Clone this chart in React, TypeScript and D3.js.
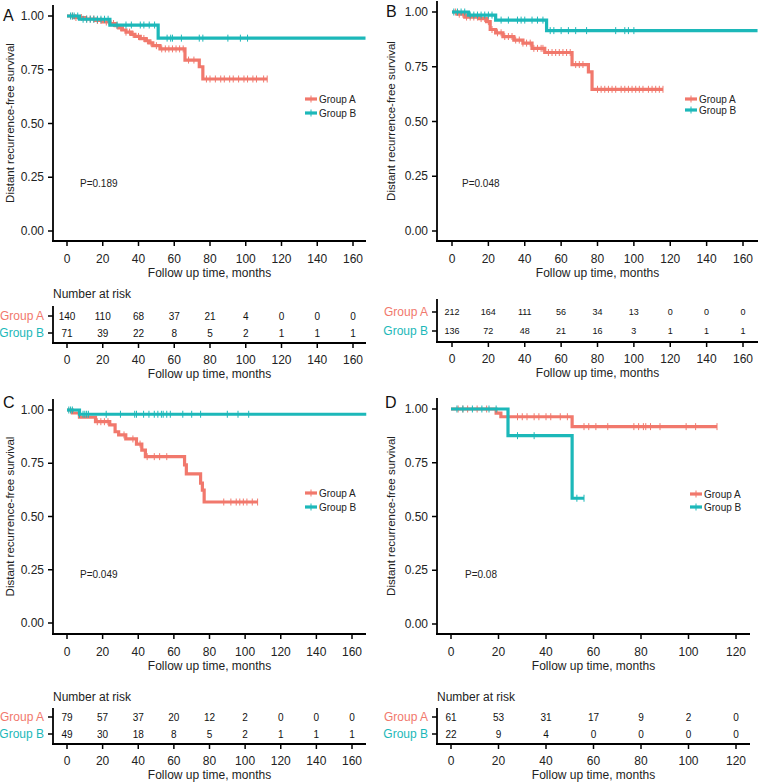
import React from "react";
import * as d3 from "d3";

const RED = "#F1786C";
const TEAL = "#1CB8B9";
const groupNames = ["Group A", "Group B"];
const yTicks = [0, 0.25, 0.5, 0.75, 1];
const xTicks160 = [0, 20, 40, 60, 80, 100, 120, 140, 160];
const xTicks120 = [0, 20, 40, 60, 80, 100, 120];

// ---- panel A ----
const aStepsA = [[0, 1], [4, 0.993], [10, 0.986], [16, 0.979], [20, 0.972], [24, 0.965], [27, 0.955], [29, 0.945], [31, 0.935], [33, 0.925], [36, 0.915], [38, 0.905], [41, 0.895], [44, 0.885], [46, 0.875], [48, 0.862], [52, 0.847], [66, 0.795], [74, 0.764], [76, 0.707]];
const aEndA = 112;
const aCensA = [3, 5, 8, 11, 13, 15, 17, 19, 22, 26, 28, 30, 33, 35, 37, 40, 43, 45, 47, 50, 53, 55, 57, 59, 61, 63, 65, 68, 71, 78, 80, 83, 86, 88, 91, 93, 96, 99, 101, 104, 106, 110, 112];
const aStepsB = [[0, 1], [7, 0.985], [24, 0.958], [51, 0.897]];
const aEndB = 167;
const aCensB = [2, 3, 4, 6, 9, 11, 13, 15, 17, 19, 21, 23, 28, 33, 36, 41, 43, 46, 49, 56, 58, 59, 64, 74, 76, 90, 97, 101];
const aRiskA = [140, 110, 68, 37, 21, 4, 0, 0, 0];
const aRiskB = [71, 39, 22, 8, 5, 2, 1, 1, 1];

// ---- panel B ----
const bStepsA = [[0, 1], [3, 0.99], [7, 0.977], [15, 0.97], [19, 0.956], [21, 0.92], [24, 0.905], [28, 0.888], [34, 0.872], [39, 0.858], [44, 0.834], [51, 0.815], [66, 0.76], [75, 0.727], [77, 0.647]];
const bEndA = 116;
const bCensA = [2, 4, 6, 8, 10, 12, 14, 16, 18, 20, 22, 25, 27, 29, 31, 33, 35, 37, 39, 41, 43, 45, 47, 49, 50, 53, 55, 57, 59, 61, 63, 65, 68, 70, 72, 80, 82, 84, 86, 88, 90, 93, 95, 97, 99, 101, 103, 105, 108, 110, 112, 114, 116];
const bStepsB = [[0, 1], [9, 0.986], [24, 0.963], [52, 0.915]];
const bEndB = 168;
const bCensB = [1, 3, 5, 7, 10, 12, 14, 16, 18, 20, 22, 27, 31, 36, 38, 40, 44, 47, 50, 54, 56, 60, 64, 68, 74, 90, 95, 97, 100];
const bRiskA = [212, 164, 111, 56, 34, 13, 0, 0, 0];
const bRiskB = [136, 72, 48, 21, 16, 3, 1, 1, 1];

// ---- panel C ----
const cStepsA = [[0, 1], [3, 0.986], [7, 0.966], [16, 0.945], [24, 0.93], [27, 0.898], [29, 0.883], [33, 0.864], [39, 0.84], [42, 0.812], [44, 0.781], [66, 0.742], [67, 0.7], [75, 0.657], [76, 0.624], [77, 0.568]];
const cEndA = 107;
const cCensA = [17, 19, 21, 23, 32, 37, 41, 45, 49, 52, 56, 88, 92, 95, 97, 99, 101, 104, 107];
const cStepsB = [[0, 1], [7, 0.98]];
const cEndB = 168;
const cCensB = [1, 2, 3, 7, 9, 10, 11, 12, 22, 30, 38, 39, 43, 46, 49, 51, 53, 54, 56, 58, 65, 70, 75, 90, 96, 102];
const cRiskA = [79, 57, 37, 20, 12, 2, 0, 0, 0];
const cRiskB = [49, 30, 18, 8, 5, 2, 1, 1, 1];

// ---- panel D ----
const dStepsA = [[0, 1], [19, 0.981], [21, 0.964], [51, 0.918]];
const dEndA = 112;
const dCensA = [3, 5, 7, 11, 15, 28, 30, 32, 35, 37, 40, 42, 46, 49, 56, 58, 61, 66, 77, 79, 81, 82, 84, 88, 99, 103, 112];
const dStepsB = [[0, 1], [24, 0.876], [51, 0.585]];
const dEndB = 56;
const dCensB = [2.5, 5, 9, 13, 16, 19, 28, 35, 53, 56];
const dRiskA = [61, 53, 31, 17, 9, 2, 0];
const dRiskB = [22, 9, 4, 0, 0, 0, 0];

const FONT = "'Liberation Sans', Arial, Helvetica, sans-serif";
const fmt = d3.format(".2f");

function survAt(steps: number[][], t: number) {
  let s = steps[0][1];
  for (const st of steps) if (st[0] <= t) s = st[1];
  return s;
}

function Panel(p: any) {
  const x = d3.scaleLinear().domain([0, p.xTicks[p.xTicks.length - 1]]).range([p.x0, p.x1]);
  const y = d3.scaleLinear().domain([0, 1]).range([p.yZero, p.yOne]);
  const line = d3.line<number[]>().x(d => x(d[0])).y(d => y(d[1])).curve(d3.curveStepAfter);
  const series = [
    { steps: p.stepsA, end: p.endA, cens: p.censA, color: RED },
    { steps: p.stepsB, end: p.endB, cens: p.censB, color: TEAL },
  ];
  const mid = (p.axisL + p.axisR) / 2;
  const riskRows = [p.riskA, p.riskB];
  const rowY = [p.rowA, p.rowB];
  return (
    <g fontFamily={FONT}>
      <text x={p.labelX} y={p.labelY} fontSize={16} dominantBaseline="central" fill="#111">{p.label}</text>
      <text transform={`translate(${p.yTitleX},${(p.axisTop + p.axisBottom) / 2}) rotate(-90)`} textAnchor="middle" dominantBaseline="central" fontSize={11.5} fill="#222">Distant recurrence-free survival</text>
      {/* curves */}
      {series.map((s, i) => {
        const pts = [...s.steps, [s.end, s.steps[s.steps.length - 1][1]]];
        return (
          <g key={i}>
            <path d={line(pts) || ""} fill="none" stroke={s.color} strokeWidth={3.2} />
            {s.cens.map((c: number, j: number) => (
              <line key={j} x1={x(c)} x2={x(c)} y1={y(survAt(s.steps, c)) - 3.5} y2={y(survAt(s.steps, c)) + 3.5} stroke={s.color} strokeWidth={1} />
            ))}
          </g>
        );
      })}
      {/* axes */}
      <line x1={p.axisL} x2={p.axisL} y1={p.axisTop} y2={p.axisBottom + 1} stroke="#000" strokeWidth={1.8} />
      <line x1={p.axisL - 1} x2={p.axisR} y1={p.axisBottom} y2={p.axisBottom} stroke="#000" strokeWidth={1.8} />
      {yTicks.map(t => (
        <g key={t}>
          <line x1={p.axisL - 5} x2={p.axisL} y1={y(t)} y2={y(t)} stroke="#000" strokeWidth={1.5} />
          <text x={p.axisL - 9} y={y(t)} textAnchor="end" dominantBaseline="central" fontSize={12} fill="#222">{fmt(t)}</text>
        </g>
      ))}
      {p.xTicks.map((t: number) => (
        <g key={t}>
          <line x1={x(t)} x2={x(t)} y1={p.axisBottom} y2={p.axisBottom + 5} stroke="#000" strokeWidth={1.5} />
          <text x={x(t)} y={p.axisBottom + 18} textAnchor="middle" dominantBaseline="central" fontSize={12} fill="#222">{t}</text>
        </g>
      ))}
      <text x={mid} y={p.axisBottom + 32} textAnchor="middle" dominantBaseline="central" fontSize={12} fill="#222">Follow up time, months</text>
      {/* p value */}
      <text x={p.pX} y={p.pY} dominantBaseline="central" fontSize={10} fill="#222">{p.pText}</text>
      {/* legend */}
      {series.map((s, i) => {
        const ly = i === 0 ? p.legAY : p.legBY;
        return (
          <g key={i}>
            <line x1={p.legX} x2={p.legX + 12} y1={ly} y2={ly} stroke={s.color} strokeWidth={3.2} />
            <line x1={p.legX + 6} x2={p.legX + 6} y1={ly - 3.5} y2={ly + 3.5} stroke={s.color} strokeWidth={1} />
            <text x={p.legX + 14} y={ly} dominantBaseline="central" fontSize={10} fill="#222">{groupNames[i]}</text>
          </g>
        );
      })}
      {/* risk table */}
      {p.showRiskTitle && (
        <text x={p.axisL} y={p.riskTitleY} dominantBaseline="central" fontSize={12} fill="#222">Number at risk</text>
      )}
      <line x1={p.axisL} x2={p.axisL} y1={p.riskTop} y2={p.riskAxis + 1} stroke="#000" strokeWidth={1.8} />
      <line x1={p.axisL - 1} x2={p.axisR} y1={p.riskAxis} y2={p.riskAxis} stroke="#000" strokeWidth={1.8} />
      {riskRows.map((row: number[], i: number) => (
        <g key={i}>
          <line x1={p.axisL - 5} x2={p.axisL} y1={rowY[i]} y2={rowY[i]} stroke="#000" strokeWidth={1.5} />
          <text x={p.axisL - 9} y={rowY[i]} textAnchor="end" dominantBaseline="central" fontSize={12} fill={i === 0 ? RED : TEAL}>{groupNames[i]}</text>
          {row.map((n, j) => (
            <text key={j} x={x(p.xTicks[j])} y={rowY[i]} textAnchor="middle" dominantBaseline="central" fontSize={p.riskFont} fill="#111">{n}</text>
          ))}
        </g>
      ))}
      {p.xTicks.map((t: number) => (
        <g key={t}>
          <line x1={x(t)} x2={x(t)} y1={p.riskAxis} y2={p.riskAxis + 5} stroke="#000" strokeWidth={1.5} />
          <text x={x(t)} y={p.riskAxis + 17} textAnchor="middle" dominantBaseline="central" fontSize={12} fill="#222">{t}</text>
        </g>
      ))}
      <text x={mid} y={p.riskAxis + 31} textAnchor="middle" dominantBaseline="central" fontSize={12} fill="#222">Follow up time, months</text>
    </g>
  );
}

export default function App() {
  return (
    <svg width={761} height={783} style={{ position: "absolute", left: 0, top: 0, background: "#fff" }}>
      <Panel label="A" labelX={3} labelY={15} yTitleX={10} x0={67} x1={353} axisL={53} axisR={366} yZero={231} yOne={16} axisTop={5} axisBottom={241}
        xTicks={xTicks160} stepsA={aStepsA} endA={aEndA} censA={aCensA} stepsB={aStepsB} endB={aEndB} censB={aCensB}
        pText="P=0.189" pX={80} pY={183} legX={305} legAY={99} legBY={113}
        showRiskTitle={true} riskTitleY={294} riskTop={306} rowA={316} rowB={333} riskAxis={343} riskA={aRiskA} riskB={aRiskB} riskFont={10} />
      <Panel label="B" labelX={386} labelY={11} yTitleX={391} x0={452} x1={743} axisL={437} axisR={758} yZero={231} yOne={12} axisTop={1} axisBottom={241}
        xTicks={xTicks160} stepsA={bStepsA} endA={bEndA} censA={bCensA} stepsB={bStepsB} endB={bEndB} censB={bCensB}
        pText="P=0.048" pX={462} pY={183} legX={685} legAY={99} legBY={110}
        showRiskTitle={false} riskTitleY={290} riskTop={299} rowA={312} rowB={331} riskAxis={342} riskA={bRiskA} riskB={bRiskB} riskFont={9} />
      <Panel label="C" labelX={3} labelY={402} yTitleX={10} x0={67} x1={352} axisL={53} axisR={366} yZero={623} yOne={410} axisTop={399} axisBottom={634}
        xTicks={xTicks160} stepsA={cStepsA} endA={cEndA} censA={cCensA} stepsB={cStepsB} endB={cEndB} censB={cCensB}
        pText="P=0.049" pX={80} pY={574} legX={305} legAY={493} legBY={507}
        showRiskTitle={true} riskTitleY={697} riskTop={708} rowA={717} rowB={734} riskAxis={744} riskA={cRiskA} riskB={cRiskB} riskFont={10} />
      <Panel label="D" labelX={385} labelY={402} yTitleX={391} x0={451} x1={736} axisL={437} axisR={750} yZero={624} yOne={409} axisTop={398} axisBottom={634}
        xTicks={xTicks120} stepsA={dStepsA} endA={dEndA} censA={dCensA} stepsB={dStepsB} endB={dEndB} censB={dCensB}
        pText="P=0.08" pX={465} pY={574} legX={690} legAY={494} legBY={507}
        showRiskTitle={true} riskTitleY={697} riskTop={708} rowA={717} rowB={734} riskAxis={744} riskA={dRiskA} riskB={dRiskB} riskFont={10} />
    </svg>
  );
}
